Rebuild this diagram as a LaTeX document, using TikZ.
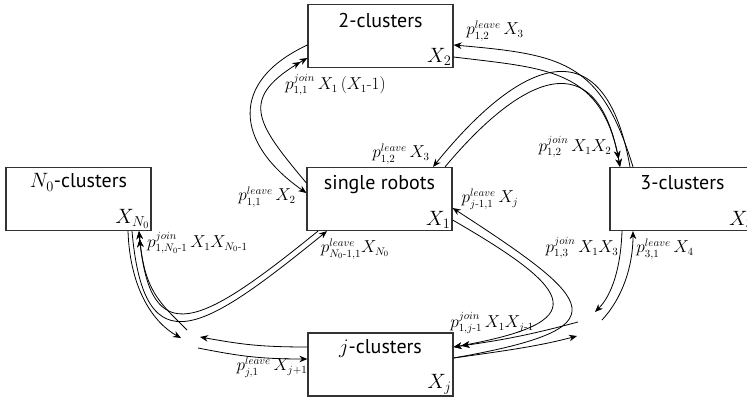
\documentclass[tikz,border=0pt]{standalone}
\usepackage{amsmath}
\usepackage{fontspec}
\setsansfont{PT Sans}
\usetikzlibrary{arrows.meta}
\definecolor{frame}{HTML}{333333}
\tikzset{
  cluster/.style={draw=frame,line width=1.2pt,minimum width=145pt,minimum height=63pt,inner sep=0pt},
  title/.style={anchor=base,font=\sffamily\fontsize{20}{22}\selectfont,inner sep=0pt},
  count/.style={anchor=south east,font=\fontsize{20}{22}\selectfont,inner sep=2pt},
  rate/.style={font=\fontsize{16}{18}\selectfont,inner sep=0pt},
  flow/.style={line width=0.8pt,-{Stealth[length=8pt,width=6.5pt]}},
  joinflow/.style={line width=0.8pt,-{Stealth[length=8pt,width=6.5pt]Stealth[length=8pt,width=6.5pt]}}
}

\begin{document}
\begin{tikzpicture}[x=1pt,y=1pt]
\useasboundingbox (0,0) rectangle (747,399);
% cluster boxes
\node[cluster] (c2) at (380.5,363) {};
\node[cluster] (cN) at (78.5,200) {};
\node[cluster] (c1) at (379.5,200) {};
\node[cluster] (c3) at (682.5,200) {};
\node[cluster] (cj) at (380.5,34.5) {};
\node[title] (c2t) at ([yshift=-24pt]c2.north) {2-clusters};
\node[title] (cNt) at ([yshift=-21pt]cN.north) {$N_0$-clusters};
\node[title] (c1t) at ([yshift=-23pt]c1.north) {single robots};
\node[title] (c3t) at ([yshift=-23pt]c3.north) {3-clusters};
\node[title] (cjt) at ([yshift=-21pt]cj.north) {$j$-clusters};
\node[count] (c2x) at (c2.south east) {$X_2$};
\node[count] (cNx) at (cN.south east) {$X_{N_0}$};
\node[count] (c1x) at (c1.south east) {$X_1$};
\node[count] (c3x) at (c3.south east) {$X_3$};
\node[count] (cjx) at (cj.south east) {$X_j$};
% open ends towards the clusters that are left out
\coordinate (gR1) at (595,87);
\coordinate (gR2) at (602,79);
\coordinate (gR3) at (578,77);
\coordinate (gR4) at (577,63);
\coordinate (gL1) at (181,61);
\coordinate (gL2) at (187,69);
\coordinate (gL3) at (200,62);
\coordinate (gL4) at (198,51);

% single robots <-> 2-clusters
\draw[flow] ([yshift=-9pt]c2.west) .. controls +(205:87) and +(145:87) .. ([yshift=6pt]c1.west);
\draw[joinflow] ([yshift=16pt]c1.west) .. controls +(130:80) and +(210:80) .. ([yshift=-22pt]c2.west);
\node[rate,anchor=west] (r11j) at (285,314) {$p^{join}_{1,1}\,X_1\,(X_1\text{-}1)$};
\node[rate] (r11l) at (267,202) {$p^{leave}_{1,1}\,X_2$};

% 3-clusters <-> 2-clusters, single robots
\draw[flow] ([xshift=-49.5pt]c3.north) .. controls +(107:110) and +(-5:110) .. ([yshift=-9pt]c2.east);
\draw[joinflow] ([yshift=-21pt]c2.east) .. controls +(-7:95) and +(100:100) .. ([xshift=-62.5pt]c3.north);
\draw[flow] ([xshift=-52.5pt]c3.north) .. controls +(100:140) and +(51:148) .. ([xshift=53.5pt]c1.north);
\draw[joinflow] ([xshift=65.5pt]c1.north) .. controls +(50:120) and +(100:129) .. ([xshift=-62.5pt]c3.north);
\node[rate] (r12a) at (495,368) {$p^{leave}_{1,2}\,X_3$};
\node[rate] (r12b) at (401,245) {$p^{leave}_{1,2}\,X_3$};
\node[rate] (r12j) at (575,252) {$p^{join}_{1,2}\,X_1X_2$};

% 3-clusters <-> larger
\draw[flow] ([xshift=-60.5pt]c3.south) .. controls +(268:35) and +(45:25) .. (gR1);
\draw[flow] (gR2) .. controls +(47:30) and +(270:35) .. ([xshift=-49.5pt]c3.south);
\node[rate] (r13j) at (582,151) {$p^{join}_{1,3}\,X_1X_3$};
\node[rate] (r31l) at (665,150) {$p^{leave}_{3,1}\,X_4$};

% j-clusters <-> single robots, smaller
\draw[flow] ([yshift=6.5pt]cj.east) .. controls +(10:173) and +(-33:173) .. ([yshift=-9pt]c1.east);
\draw[joinflow] ([yshift=-21pt]c1.east) .. controls +(-30:143) and +(10:143) .. ([yshift=17.5pt]cj.east);
\draw[joinflow] (gR3) .. controls +(195:50) and +(8:50) .. ([yshift=17.5pt]cj.east);
\draw[flow] ([yshift=6.5pt]cj.east) .. controls +(8:50) and +(195:40) .. (gR4);
\node[rate] (rj1l) at (490,200) {$p^{leave}_{j\text{-}1,1}\,X_j$};
\node[rate] (r1jj) at (492,76) {$p^{join}_{1,j\text{-}1}\,X_1X_{j\text{-}1}$};

% N_0-clusters <-> single robots, smaller
\draw[flow] ([xshift=49.5pt]cN.south) .. controls +(272:60) and +(151:30) .. (gL1);
\draw[flow] ([xshift=53.5pt]cN.south) .. controls +(275:140) and +(219:158) .. ([xshift=-52.5pt]c1.south);
\draw[joinflow] ([xshift=-61.5pt]c1.south) .. controls +(219:150) and +(275:124) .. ([xshift=60.5pt]cN.south);
\draw[joinflow] (gL2) .. controls +(135:40) and +(275:60) .. ([xshift=60.5pt]cN.south);
\node[rate,anchor=west] (r1Nj) at (147,156) {$p^{join}_{1,N_0\text{-}1}\,X_1X_{N_0\text{-}1}$};
\node[rate] (rN1l) at (355,150) {$p^{leave}_{N_0\text{-}1,1}X_{N_0}$};

% j-clusters <-> smaller
\draw[flow] ([yshift=17.5pt]cj.west) .. controls +(180:50) and +(-10:40) .. (gL3);
\draw[flow] (gL4) .. controls +(-11:40) and +(180:50) .. ([yshift=5.5pt]cj.west);
\node[rate] (rj1l2) at (272,32) {$p^{leave}_{j,1}\,X_{j+1}$};
\end{tikzpicture}
\end{document}
